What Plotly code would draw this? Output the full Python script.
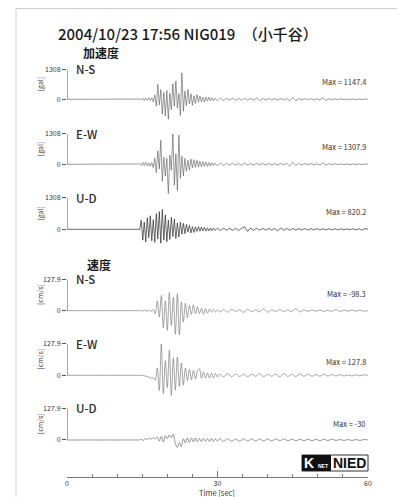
import numpy as np
import plotly.graph_objects as go

# ---------------- data ----------------
TITLE = "2004/10/23 17:56 NIG019\u3000（小千谷）"
SECTION_LABELS = ["加速度", "速度"]
COMPONENTS = ["N-S", "E-W", "U-D"]
ACC_SCALE = 1308
VEL_SCALE = 127.9
ACC_SCALE_TEXT = "1308"
VEL_SCALE_TEXT = "127.9"
ACC_UNIT = "[gal]"
VEL_UNIT = "[cm/s]"
ACC_MAX_TEXT = ["1147.4", "1307.9", "820.2"]
VEL_MAX_TEXT = ["-98.3", "127.8", "-30"]
X_TICKS = [0, 30, 60]
X_MINOR_STEP = 5
X_TITLE = "Time [sec]"

# sampling of the digitised peaks (s)
ACC_T0_STRONG, ACC_DT_STRONG = 14.5, 0.3
ACC_T0_CODA, ACC_DT_CODA = 30.0, 0.6
VEL_T0_STRONG, VEL_DT_STRONG = 14.0, 0.4
VEL_T0_CODA, VEL_DT_CODA = 30.4, 0.8

# acceleration (gal)
acc_ns_strong = [10, -25, 45, -60, 50, -40, 70, -55, 60, -110,
                 180, -300, 650, -250, 420, -650, 300, -730, 380, -870,
                 260, -450, 680, -300, 800, -380, 250, -700, 1147.4, -520,
                 350, -280, 430, -200, 240, -260, 150, -180, 200, -120,
                 150, -110, 90, -120, 100, -80, 90, -70, 60, -65,
                 50]
acc_ns_coda = [-60, 55, -50, 45, -40, 45, -40, 35, -40, 45,
               -35, 40, -35, 60, -55, 35, -30, 35, -30, 30,
               -35, 30, -30, 40, -70, 90, -60, 35, -30, 30,
               -25, 30, -25, 25, -30, 70, -50, 30, -25, 25,
               -20, 25, -20, 20, -20, 20, -20, 20, -15, 15,
               0]
acc_ew_strong = [15, -45, 80, -60, 90, -70, 60, -85, 70, -140,
                 260, -360, 580, -200, 1040, -730, 300, -500, 250, -1265,
                 400, -250, 1307.9, -900, 450, -1130, 1260, -600, 350, -500,
                 250, -300, 180, -250, 220, -150, 200, -130, 170, -120,
                 140, -100, 120, -90, 100, -90, 80, -75, 70, -60,
                 55]
acc_ew_coda = [-70, 60, -55, 50, -45, 50, -40, 40, -45, 50,
               -40, 35, -40, 45, -40, 35, -30, 35, -30, 30,
               -35, 30, -30, 45, -80, 85, -50, 35, -30, 30,
               -25, 30, -25, 25, -35, 65, -45, 30, -25, 25,
               -20, 25, -20, 20, -20, 20, -20, 20, -15, 15,
               0]
acc_ud_strong = [0, 380, -450, 300, -520, 480, -350, 560, -480, 400,
                 -540, 650, -400, 730, -580, 820.2, -450, 600, -520, 380,
                 -420, 500, -300, 420, -380, 260, -320, 300, -200, 250,
                 -180, 200, -120, 160, -150, 110, -130, 100, -90, 110,
                 -80, 95, -70, 85, -75, 60, -70, 55, -60, 50,
                 -45]
acc_ud_coda = [45, -50, 45, -40, 45, -40, 40, -45, 40, 110,
               -90, 50, -40, 40, -35, 40, -35, 35, -30, 35,
               -70, 60, -35, 30, -35, 30, -30, 30, -30, 30,
               -30, 30, -25, 30, -25, 25, -25, 25, -25, 25,
               -25, 25, -20, 20, -20, 25, -20, 20, -35, 35,
               0]

# velocity (cm/s)
vel_ns_strong = [0, 0, 0.5, -1, 3, -3, 2, -3, 5, -12,
                 40, -25, 62, -69, 40, -80, 73, -60, 55, -96,
                 69, -98.3, 35, -45, 30, -28, 22, -15, 24, -12,
                 16, -12, 10, -14, 8, -10, 7, -6, 5, -6,
                 4]
vel_ns_coda = [-5, 4, -6, 5, -3, 4, -7, 6, -4, 3,
               -5, 8, -6, 3, -3, 4, -3, 3, -4, 9,
               -5, 3, -3, 3, -2, 3, -3, 2, -3, 5,
               -3, 2, -2, 3, -2, 2, -2, 0]
vel_ew_strong = [0, 0, -0.5, -1, -3, -5, -8, -11, -9, -20,
                 30, -62, 127.8, -75, 60, -50, 103, -82, 70, -60,
                 75, -45, 50, -40, 30, -22, 25, -18, 20, -15,
                 18, 27, -12, 14, -12, 10, -12, 9, -10, 8,
                 -7]
vel_ew_coda = [6, -7, 8, -6, 5, -5, 4, -6, 5, -4,
               6, -5, 4, -4, 5, -6, 7, -5, 4, -5,
               6, -4, 5, -4, 3, -4, 5, -3, 4, -3,
               3, -3, 2, -3, 2, -2, 2, 0]
vel_ud_strong = [0, 0, 3, -2, 6, 2, 8, 3, 10, 4,
                 12, -5, 15, -8, 18, 5, 20, 8, 24, -15,
                 -30, -10, -26, 5, -12, 8, -10, 9, -8, 8,
                 -7, 7, -7, 7, -6, 6, -6, 6, -5, 5,
                 -5]
vel_ud_coda = [5, -5, 5, -5, 4, -5, 5, -4, 4, -4,
               4, -4, 4, -4, 4, -3, 4, -3, 3, -3,
               3, -3, 3, -3, 3, -3, 3, -2, 3, -2,
               2, -2, 2, -2, 2, -2, 2, 0]

# ---------------- layout geometry (pixels of the reference) ----------------
W, H = 405, 497
OFF = 8                      # page body margin the figure sits behind
PLOT_L, PLOT_R, PLOT_T, PLOT_B = 67, 368, 8, 477   # plot area in reference pixels
ML = PLOT_L - OFF
PW = PLOT_R - PLOT_L
MR = W - ML - PW
MT = PLOT_T - OFF
PH = PLOT_B - PLOT_T
MB = H - MT - PH


def px(p):
    return (p - PLOT_L) / PW


def py(p):
    return (PLOT_B - p) / PH


def series(t0s, dts, vs, t0c, dtc, vc):
    t = [0.0] + list(t0s + dts * np.arange(len(vs))) + list(t0c + dtc * np.arange(len(vc)))
    v = [0.0] + list(vs) + list(vc)
    return t, v


panels = [
    dict(data=series(ACC_T0_STRONG, ACC_DT_STRONG, acc_ns_strong, ACC_T0_CODA, ACC_DT_CODA, acc_ns_coda),
         base=99.3, h=30.0, S=ACC_SCALE, stxt=ACC_SCALE_TEXT, unit=ACC_UNIT, comp=COMPONENTS[0],
         mx=ACC_MAX_TEXT[0], my=82, color="#555555", width=0.6, shape="linear"),
    dict(data=series(ACC_T0_STRONG, ACC_DT_STRONG, acc_ew_strong, ACC_T0_CODA, ACC_DT_CODA, acc_ew_coda),
         base=164.3, h=30.3, S=ACC_SCALE, stxt=ACC_SCALE_TEXT, unit=ACC_UNIT, comp=COMPONENTS[1],
         mx=ACC_MAX_TEXT[1], my=146, color="#555555", width=0.6, shape="linear"),
    dict(data=series(ACC_T0_STRONG, ACC_DT_STRONG, acc_ud_strong, ACC_T0_CODA, ACC_DT_CODA, acc_ud_coda),
         base=229.3, h=31.5, S=ACC_SCALE, stxt=ACC_SCALE_TEXT, unit=ACC_UNIT, comp=COMPONENTS[2],
         mx=ACC_MAX_TEXT[2], my=211, color="#2a2a2a", width=0.7, shape="linear"),
    dict(data=series(VEL_T0_STRONG, VEL_DT_STRONG, vel_ns_strong, VEL_T0_CODA, VEL_DT_CODA, vel_ns_coda),
         base=310.7, h=31.4, S=VEL_SCALE, stxt=VEL_SCALE_TEXT, unit=VEL_UNIT, comp=COMPONENTS[0],
         mx=VEL_MAX_TEXT[0], my=293, color="#6a6a6a", width=0.6, shape="spline"),
    dict(data=series(VEL_T0_STRONG, VEL_DT_STRONG, vel_ew_strong, VEL_T0_CODA, VEL_DT_CODA, vel_ew_coda),
         base=375.3, h=31.3, S=VEL_SCALE, stxt=VEL_SCALE_TEXT, unit=VEL_UNIT, comp=COMPONENTS[1],
         mx=VEL_MAX_TEXT[1], my=361, color="#6a6a6a", width=0.6, shape="spline"),
    dict(data=series(VEL_T0_STRONG, VEL_DT_STRONG, vel_ud_strong, VEL_T0_CODA, VEL_DT_CODA, vel_ud_coda),
         base=440.0, h=31.7, S=VEL_SCALE, stxt=VEL_SCALE_TEXT, unit=VEL_UNIT, comp=COMPONENTS[2],
         mx=VEL_MAX_TEXT[2], my=423, color="#555555", width=0.6, shape="spline"),
]

FONT = "Noto Sans CJK JP, Noto Sans, sans-serif"
TXT = "#2a2a2a"

fig = go.Figure()
layout = dict(
    width=W, height=H, margin=dict(l=ML, r=MR, t=MT, b=MB, pad=0),
    paper_bgcolor="white", plot_bgcolor="rgba(0,0,0,0)", showlegend=False,
    font=dict(family=FONT, color=TXT),
    xaxis=dict(domain=[0, 1], range=[0, 60], anchor="free", position=0,
               showline=True, linecolor="#777", linewidth=1, showgrid=False, zeroline=False,
               tickmode="array", tickvals=X_TICKS, ticks="inside", ticklen=6, tickcolor="#777",
               tickfont=dict(size=7, color="#333"),
               minor=dict(tickmode="linear", tick0=0, dtick=X_MINOR_STEP, ticks="inside",
                          ticklen=3, tickcolor="#777")),
)
shapes = []
annotations = []
K_LO, K_HI = 1.1, 1.25
for i, p in enumerate(panels, start=1):
    yname = "y" if i == 1 else f"y{i}"
    lname = "yaxis" if i == 1 else f"yaxis{i}"
    t, v = p["data"]
    fig.add_trace(go.Scatter(x=t, y=v, mode="lines", xaxis="x", yaxis=yname,
                             line=dict(color=p["color"], width=p["width"], shape=p["shape"], smoothing=0.8),
                             hoverinfo="skip"))
    top_px = p["base"] - K_HI * p["h"]
    bot_px = p["base"] + K_LO * p["h"]
    layout[lname] = dict(domain=[py(bot_px), py(top_px)], range=[-K_LO * p["S"], K_HI * p["S"]],
                         anchor="x", showline=False, showgrid=False, zeroline=False,
                         tickmode="array", tickvals=[0, p["S"]], ticktext=["0", p["stxt"]],
                         ticks="outside", ticklen=4, tickcolor="#555",
                         tickfont=dict(size=7, color="#333"), fixedrange=True)
    shapes.append(dict(type="line", xref="x", yref=yname, x0=0, x1=0, y0=0, y1=p["S"],
                       line=dict(color="#555", width=1)))
    annotations.append(dict(text=p["comp"], xref="paper", yref="paper", x=px(74), y=py(p["base"] - p["h"]),
                            xanchor="left", yanchor="middle", showarrow=False,
                            font=dict(size=11.5, color=TXT, weight=500)))
    annotations.append(dict(text=p["unit"], xref="paper", yref="paper", x=px(40),
                            y=py(p["base"] - p["h"] / 2), textangle=-90,
                            xanchor="center", yanchor="middle", showarrow=False,
                            font=dict(size=7, color="#333")))
    annotations.append(dict(text="Max = " + p["mx"], xref="paper", yref="paper", x=1, y=py(p["my"]),
                            xanchor="right", yanchor="middle", showarrow=False,
                            font=dict(size=7.5, color="#333")))

# title, section labels, axis title
annotations.append(dict(text=TITLE, xref="paper", yref="paper", x=px(188), y=py(33),
                        xanchor="center", yanchor="middle", showarrow=False,
                        font=dict(size=15, color="#1a1a1a", weight=500)))
annotations.append(dict(text="<b>" + SECTION_LABELS[0] + "</b>", xref="paper", yref="paper",
                        x=px(101), y=py(53), xanchor="center", yanchor="middle", showarrow=False,
                        font=dict(size=12, color="#1a1a1a")))
annotations.append(dict(text="<b>" + SECTION_LABELS[1] + "</b>", xref="paper", yref="paper",
                        x=px(99), y=py(264), xanchor="center", yanchor="middle", showarrow=False,
                        font=dict(size=12, color="#1a1a1a")))
annotations.append(dict(text=X_TITLE, xref="paper", yref="paper", x=px(217), y=py(492.5),
                        xanchor="center", yanchor="middle", showarrow=False,
                        font=dict(size=7.5, color="#333")))
# frame
shapes.append(dict(type="rect", xref="paper", yref="paper", x0=px(16), x1=px(400), y0=py(520), y1=py(8.5),
                   line=dict(color="#cfcfcf", width=1), layer="below"))
# K-NET NIED logo
shapes.append(dict(type="rect", xref="paper", yref="paper", x0=px(302), x1=px(368), y0=py(471), y1=py(455),
                   line=dict(color="#333", width=1), fillcolor="white"))
shapes.append(dict(type="rect", xref="paper", yref="paper", x0=px(302), x1=px(331), y0=py(471), y1=py(455),
                   line=dict(color="#111", width=0), fillcolor="#111"))
annotations.append(dict(text="<b>K</b>", xref="paper", yref="paper", x=px(309), y=py(463),
                        xanchor="center", yanchor="middle", showarrow=False,
                        font=dict(size=14, color="white", family="Liberation Sans, Arial")))
annotations.append(dict(text="<b>NET</b>", xref="paper", yref="paper", x=px(323), y=py(466),
                        xanchor="center", yanchor="middle", showarrow=False,
                        font=dict(size=5, color="white", family="Liberation Sans, Arial")))
annotations.append(dict(text="<b>NIED</b>", xref="paper", yref="paper", x=px(349.5), y=py(463),
                        xanchor="center", yanchor="middle", showarrow=False,
                        font=dict(size=14, color="#111", family="Liberation Sans Narrow, Liberation Sans, Arial")))
layout["shapes"] = shapes
layout["annotations"] = annotations

fig.update_layout(**layout)
fig.write_html("out.html")
